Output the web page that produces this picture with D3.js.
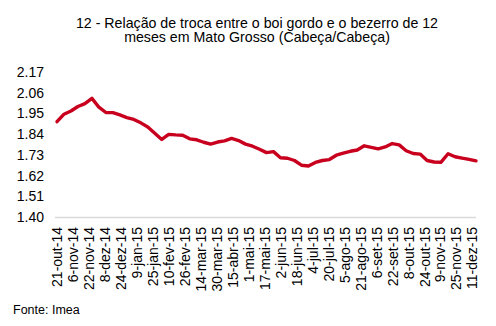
<!DOCTYPE html>
<html><head><meta charset="utf-8">
<script src="https://cdn.jsdelivr.net/npm/d3@7"></script>
<style>body{margin:0;background:#fff;}svg{display:block;font-family:"Liberation Sans",Arial,sans-serif;}</style>
</head><body><svg id="c" width="496" height="326"></svg>
<script>
const titleLines = ["12 - Relação de troca entre o boi gordo e o bezerro de 12", "meses em Mato Grosso (Cabeça/Cabeça)"];
const source = "Fonte: Imea";
const startDate = "2014-10-21";
const values = [1.906,1.946,1.963,1.987,2.002,2.030,1.983,1.955,1.954,1.942,
  1.928,1.918,1.900,1.878,1.845,1.812,1.839,1.836,1.834,1.815,
  1.810,1.797,1.787,1.798,1.804,1.817,1.806,1.787,1.776,1.760,
  1.742,1.747,1.715,1.712,1.700,1.675,1.671,1.690,1.700,1.705,
  1.728,1.739,1.749,1.756,1.778,1.770,1.762,1.772,1.790,1.783,
  1.752,1.737,1.734,1.700,1.692,1.691,1.736,1.720,1.713,1.706,1.698];
const yTicks = [1.40,1.51,1.62,1.73,1.84,1.95,2.06,2.17];
const xTickLabels = ["21-out-14","6-nov-14","22-nov-14","8-dez-14","24-dez-14","9-jan-15","25-jan-15","10-fev-15","26-fev-15","14-mar-15","30-mar-15","15-abr-15","1-mai-15","17-mai-15","2-jun-15","18-jun-15","4-jul-15","20-jul-15","5-ago-15","21-ago-15","6-set-15","22-set-15","8-out-15","24-out-15","9-nov-15","25-nov-15","11-dez-15"];

const parse = d3.utcParse("%Y-%m-%d");
const day = 86400000;
const t0 = parse(startDate);
const data = values.map((v,i)=>({date:new Date(t0.getTime()+i*7*day), value:v}));
const tickDates = xTickLabels.map((l,i)=>new Date(t0.getTime()+i*16*day));

const svg = d3.select("#c");
const x = d3.scaleUtc().domain([t0, data[data.length-1].date]).range([57,476]);
const y = d3.scaleLinear().domain([1.40,2.17]).range([217,72]);

svg.append("g").selectAll("text").data(titleLines).join("text")
  .attr("x",257).attr("y",(d,i)=>27.5+i*14.5).attr("text-anchor","middle")
  .attr("font-size",14.2).attr("fill","#000").text(d=>d);

const ya = svg.append("g").attr("transform","translate(44,0)")
  .call(d3.axisLeft(y).tickValues(yTicks).tickFormat(d3.format(".2f")).tickSize(0).tickPadding(0));
ya.select(".domain").remove();
ya.selectAll("text").attr("font-size",14).attr("font-family","Liberation Sans, Arial, sans-serif").attr("fill","#000");

const xa = svg.append("g").attr("transform","translate(0,217)")
  .call(d3.axisBottom(x).tickValues(tickDates).tickFormat((d,i)=>xTickLabels[i]).tickSize(0).tickPadding(0));
xa.select(".domain").attr("stroke","#d9d9d9").attr("stroke-width",1.5).attr("d","M55,0.5H476");
xa.selectAll("text").attr("font-size",14).attr("font-family","Liberation Sans, Arial, sans-serif").attr("fill","#000")
  .attr("transform","rotate(-90)").attr("text-anchor","end").attr("x",-10).attr("y",0).attr("dy","0.35em");

svg.append("path").datum(data)
  .attr("fill","none").attr("stroke","#c8001e").attr("stroke-width",3.4).attr("stroke-linejoin","round").attr("stroke-linecap","round")
  .attr("d",d3.line().x(d=>x(d.date)).y(d=>y(d.value)));

svg.append("text").attr("x",13).attr("y",314).attr("font-size",12.5).attr("fill","#000").text(source);
</script></body></html>
